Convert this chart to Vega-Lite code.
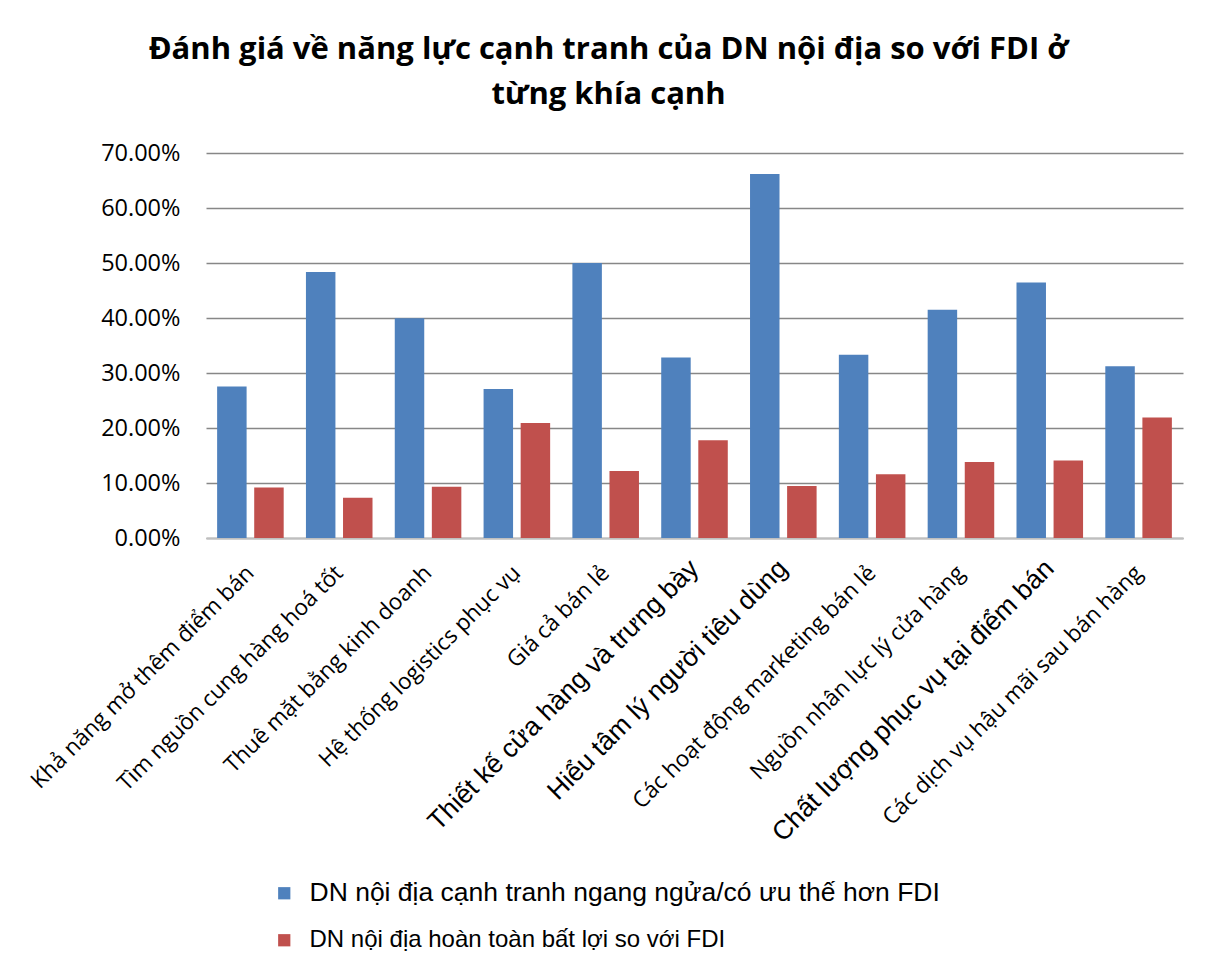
{
  "$schema": "https://vega.github.io/schema/vega-lite/v6.json",
  "autosize": {"type": "none"},
  "padding": {"left": 206, "top": 153, "right": 27, "bottom": 431},
  "width": 977,
  "height": 385,
  "background": "white",
  "title": {
    "text": ["Đánh giá về năng lực cạnh tranh của DN nội địa so với FDI ở", "từng khía cạnh"],
    "font": "Open Sans",
    "fontSize": 31,
    "fontWeight": "bold",
    "color": "#000000",
    "anchor": "middle",
    "dx": -86,
    "offset": 30,
    "lineHeight": 45
  },
  "data": {
    "values": [
      {"cat": "Khả năng mở thêm điểm bán", "series": "DN nội địa cạnh tranh ngang ngửa/có ưu thế hơn FDI", "value": 0.2754},
      {"cat": "Khả năng mở thêm điểm bán", "series": "DN nội địa hoàn toàn bất lợi so với FDI", "value": 0.0916},
      {"cat": "Tìm nguồn cung hàng hoá tốt", "series": "DN nội địa cạnh tranh ngang ngửa/có ưu thế hơn FDI", "value": 0.4835},
      {"cat": "Tìm nguồn cung hàng hoá tốt", "series": "DN nội địa hoàn toàn bất lợi so với FDI", "value": 0.0734},
      {"cat": "Thuê mặt bằng kinh doanh", "series": "DN nội địa cạnh tranh ngang ngửa/có ưu thế hơn FDI", "value": 0.3997},
      {"cat": "Thuê mặt bằng kinh doanh", "series": "DN nội địa hoàn toàn bất lợi so với FDI", "value": 0.0934},
      {"cat": "Hệ thống logistics phục vụ", "series": "DN nội địa cạnh tranh ngang ngửa/có ưu thế hơn FDI", "value": 0.271},
      {"cat": "Hệ thống logistics phục vụ", "series": "DN nội địa hoàn toàn bất lợi so với FDI", "value": 0.2093},
      {"cat": "Giá cả bán lẻ", "series": "DN nội địa cạnh tranh ngang ngửa/có ưu thế hơn FDI", "value": 0.4998},
      {"cat": "Giá cả bán lẻ", "series": "DN nội địa hoàn toàn bất lợi so với FDI", "value": 0.1219},
      {"cat": "Thiết kế cửa hàng và trưng bày", "series": "DN nội địa cạnh tranh ngang ngửa/có ưu thế hơn FDI", "value": 0.328},
      {"cat": "Thiết kế cửa hàng và trưng bày", "series": "DN nội địa hoàn toàn bất lợi so với FDI", "value": 0.1777},
      {"cat": "Hiểu tâm lý người tiêu dùng", "series": "DN nội địa cạnh tranh ngang ngửa/có ưu thế hơn FDI", "value": 0.6618},
      {"cat": "Hiểu tâm lý người tiêu dùng", "series": "DN nội địa hoàn toàn bất lợi so với FDI", "value": 0.0946},
      {"cat": "Các hoạt động marketing bán lẻ", "series": "DN nội địa cạnh tranh ngang ngửa/có ưu thế hơn FDI", "value": 0.333},
      {"cat": "Các hoạt động marketing bán lẻ", "series": "DN nội địa hoàn toàn bất lợi so với FDI", "value": 0.1158},
      {"cat": "Nguồn nhân lực lý cửa hàng", "series": "DN nội địa cạnh tranh ngang ngửa/có ưu thế hơn FDI", "value": 0.415},
      {"cat": "Nguồn nhân lực lý cửa hàng", "series": "DN nội địa hoàn toàn bất lợi so với FDI", "value": 0.1383},
      {"cat": "Chất lượng phục vụ tại điểm bán", "series": "DN nội địa cạnh tranh ngang ngửa/có ưu thế hơn FDI", "value": 0.4647},
      {"cat": "Chất lượng phục vụ tại điểm bán", "series": "DN nội địa hoàn toàn bất lợi so với FDI", "value": 0.1407},
      {"cat": "Các dịch vụ hậu mãi sau bán hàng", "series": "DN nội địa cạnh tranh ngang ngửa/có ưu thế hơn FDI", "value": 0.3124},
      {"cat": "Các dịch vụ hậu mãi sau bán hàng", "series": "DN nội địa hoàn toàn bất lợi so với FDI", "value": 0.219}
    ]
  },
  "mark": {"type": "bar"},
  "encoding": {
    "x": {
      "field": "cat",
      "type": "nominal",
      "sort": null,
      "scale": {"paddingInner": 0, "paddingOuter": 0},
      "axis": {
        "title": null,
        "labelAngle": -45,
        "labelAlign": "right",
        "labelBaseline": "middle",
        "labelPadding": {"condition": {"test": "indexof(['Thiết kế cửa hàng và trưng bày','Hiểu tâm lý người tiêu dùng','Chất lượng phục vụ tại điểm bán'], datum.value) >= 0", "value": 26}, "value": 31},
        "labelLimit": 500,
        "labelColor": "#000000",
        "labelFont": {"condition": {"test": "indexof(['Thiết kế cửa hàng và trưng bày','Hiểu tâm lý người tiêu dùng','Chất lượng phục vụ tại điểm bán'], datum.value) >= 0", "value": "Liberation Sans"}, "value": "Open Sans"},
        "labelFontSize": {"condition": {"test": "indexof(['Thiết kế cửa hàng và trưng bày','Hiểu tâm lý người tiêu dùng','Chất lượng phục vụ tại điểm bán'], datum.value) >= 0", "value": 26.5}, "value": 22.5},
        "ticks": false,
        "domain": true,
        "domainColor": "#bfbfbf",
        "domainWidth": 2,
        "grid": false
      }
    },
    "xOffset": {
      "field": "series",
      "type": "nominal",
      "scale": {"paddingInner": 0.205, "paddingOuter": 0.3}
    },
    "y": {
      "field": "value",
      "type": "quantitative",
      "scale": {"domain": [0, 0.7]},
      "axis": {
        "title": null,
        "format": ".2%",
        "values": [0, 0.1, 0.2, 0.3, 0.4, 0.5, 0.6, 0.7],
        "labelFont": "Open Sans",
        "labelFontSize": 23.5,
        "labelColor": "#000000",
        "labelPadding": 26,
        "ticks": false,
        "domain": false,
        "grid": true,
        "gridColor": "#878787",
        "gridWidth": 1.6
      }
    },
    "color": {
      "field": "series",
      "type": "nominal",
      "sort": null,
      "scale": {
        "domain": ["DN nội địa cạnh tranh ngang ngửa/có ưu thế hơn FDI", "DN nội địa hoàn toàn bất lợi so với FDI"],
        "range": ["#4f81bd", "#c0504d"]
      },
      "legend": {
        "title": null,
        "orient": "none",
        "legendX": 65,
        "legendY": 727,
        "direction": "vertical",
        "symbolType": "square",
        "symbolSize": 150,
        "symbolStrokeWidth": 0,
        "labelFont": "Liberation Sans",
        "labelFontSize": 26.5,
        "labelColor": "#000000",
        "labelOffset": 12,
        "labelLimit": 900,
        "rowPadding": 20,
        "encode": {
          "labels": {
            "update": {
              "fontSize": {"signal": "datum.value === 'DN nội địa hoàn toàn bất lợi so với FDI' ? 24 : 26.5"}
            }
          }
        }
      }
    }
  },
  "config": {
    "view": {"stroke": null}
  }
}
